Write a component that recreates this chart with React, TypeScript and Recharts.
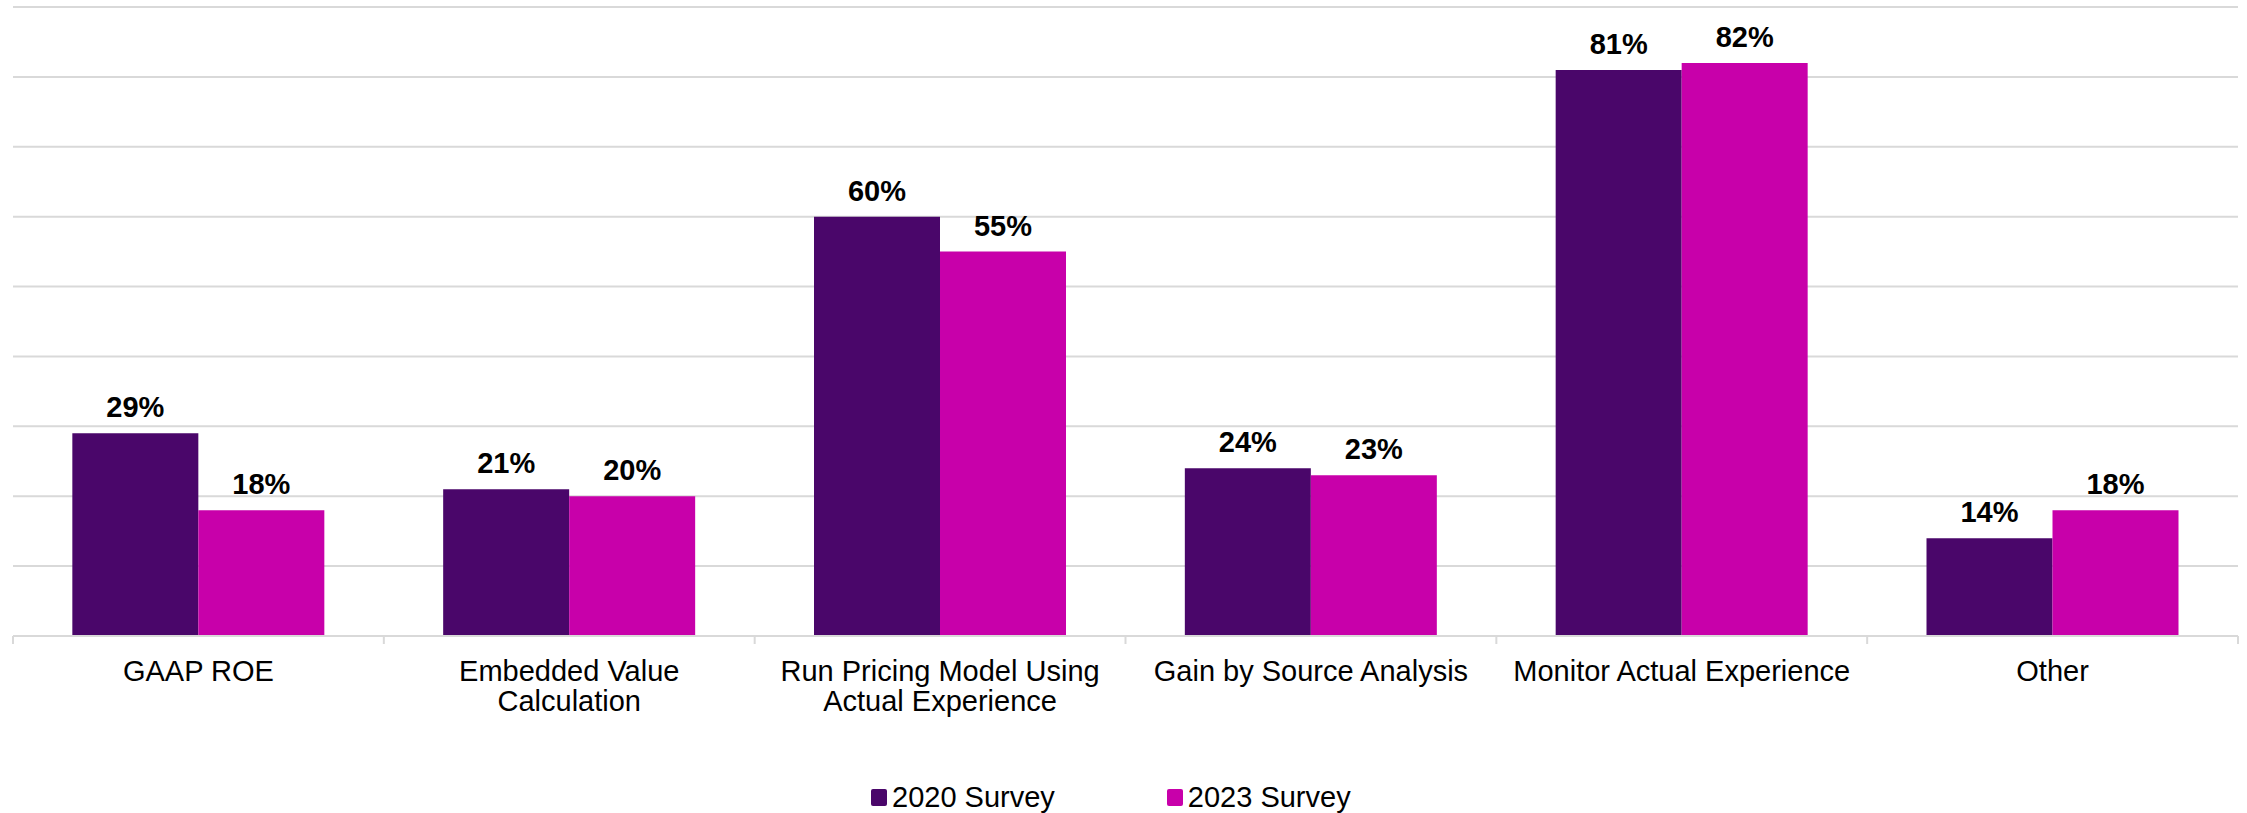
import React from 'react';
import { BarChart, Bar, XAxis, YAxis, CartesianGrid, LabelList, Legend } from 'recharts';

const categories = [
  'GAAP ROE',
  'Embedded Value\nCalculation',
  'Run Pricing Model Using\nActual Experience',
  'Gain by Source Analysis',
  'Monitor Actual Experience',
  'Other',
];
const survey2020 = [29, 21, 60, 24, 81, 14];
const survey2023 = [18, 20, 55, 23, 82, 18];
const yTicks = [0, 10, 20, 30, 40, 50, 60, 70, 80, 90];
const seriesNames = ['2020 Survey', '2023 Survey'];
const colors = ['#4A066A', '#C800AA'];

const data = categories.map((c, i) => ({ name: c, s2020: survey2020[i], s2023: survey2023[i] }));

const FONT = "Arial, 'Liberation Sans', sans-serif";

const CategoryTick = (props: any) => {
  const { x, y, payload, index } = props;
  const half = payload && payload.offset ? payload.offset : 2225 / 12;
  const lines = String(payload.value).split('\n');
  return (
    <g>
      <line x1={x - half} y1={y} x2={x - half} y2={y + 8} stroke="#D9D9D9" strokeWidth={2} />
      {index === categories.length - 1 && (
        <line x1={x + half} y1={y} x2={x + half} y2={y + 8} stroke="#D9D9D9" strokeWidth={2} />
      )}
      {lines.map((l: string, i: number) => (
        <text
          key={i}
          x={x}
          y={y + 35 + i * 30}
          textAnchor="middle"
          dominantBaseline="central"
          fontFamily={FONT}
          fontSize={29}
          fill="#000"
        >
          {l}
        </text>
      ))}
    </g>
  );
};

const LegendContent = () => (
  <div style={{ display: 'flex', alignItems: 'center', fontFamily: FONT, fontSize: 29, color: '#000', lineHeight: '34px' }}>
    {seriesNames.map((n, i) => (
      <div key={n} style={{ display: 'flex', alignItems: 'center', marginRight: i === 0 ? 112 : 0 }}>
        <div style={{ width: 16, height: 17, background: colors[i], borderRadius: 2, marginRight: 5 }} />
        <span>{n}</span>
      </div>
    ))}
  </div>
);

export default function App() {
  return (
    <div style={{ position: 'absolute', left: 0, top: 0, background: '#fff' }}>
      <BarChart
        width={2247}
        height={813}
        data={data}
        margin={{ top: 7, right: 9, left: 13, bottom: 0 }}
        barCategoryGap="16%"
        barGap={0}
      >
        <CartesianGrid vertical={false} stroke="#D9D9D9" strokeWidth={2} />
        <YAxis hide domain={[0, 90]} ticks={yTicks} />
        <XAxis
          dataKey="name"
          height={177}
          axisLine={{ stroke: '#D9D9D9', strokeWidth: 2 }}
          tickLine={false}
          tickSize={0}
          tickMargin={0}
          tick={<CategoryTick />}
          interval={0}
        />
        <Legend
          layout="horizontal"
          verticalAlign="middle"
          align="center"
          wrapperStyle={{ top: 780, left: 871, width: 700, height: 34 }}
          content={<LegendContent />}
        />
        <Bar dataKey="s2020" name={seriesNames[0]} fill={colors[0]} isAnimationActive={false}>
          <LabelList
            dataKey="s2020"
            position="top"
            offset={16}
            formatter={(v: any) => `${v}%`}
            style={{ fontFamily: FONT, fontSize: 29, fontWeight: 'bold', fill: '#000' }}
          />
        </Bar>
        <Bar dataKey="s2023" name={seriesNames[1]} fill={colors[1]} isAnimationActive={false}>
          <LabelList
            dataKey="s2023"
            position="top"
            offset={16}
            formatter={(v: any) => `${v}%`}
            style={{ fontFamily: FONT, fontSize: 29, fontWeight: 'bold', fill: '#000' }}
          />
        </Bar>
      </BarChart>
    </div>
  );
}
